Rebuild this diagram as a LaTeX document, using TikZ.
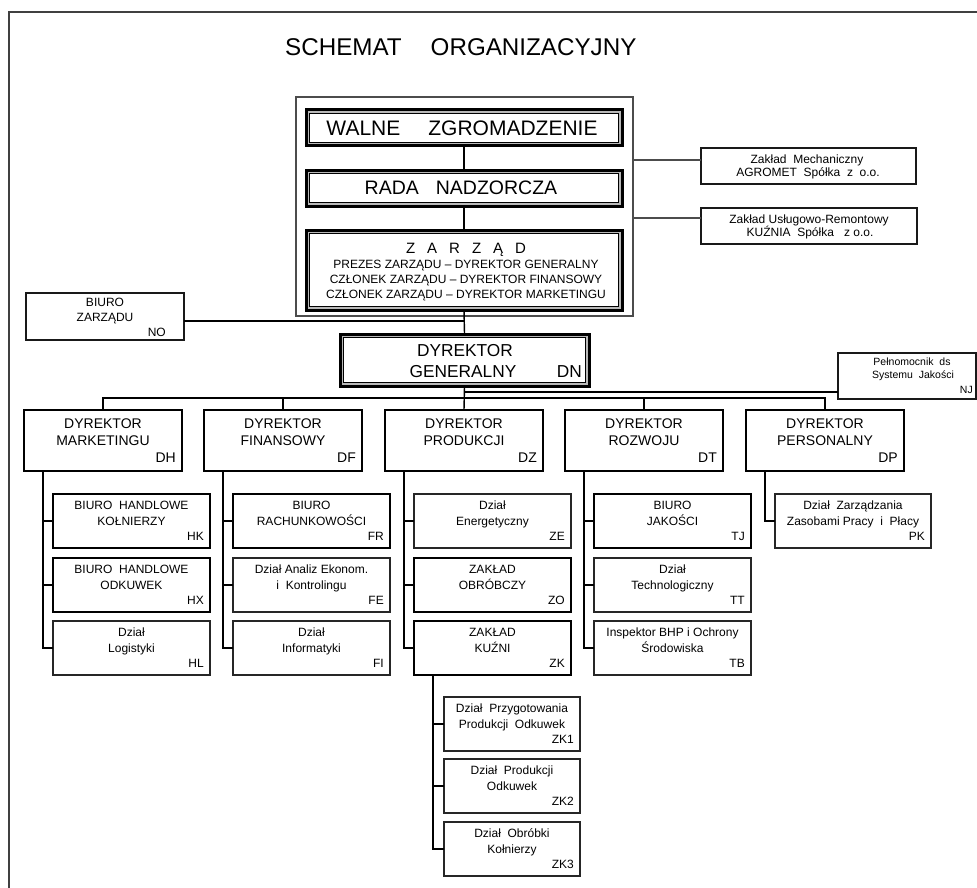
\documentclass[tikz,border=0pt]{standalone}
\usepackage{fontspec}
\setmainfont{Liberation Sans}
\tikzset{
 conn/.style={line width=1.4pt, black},
 lconn/.style={line width=1.3pt, black!70},
 frameline/.style={line width=1.6pt, black!75},
 basebox/.style={rectangle, inner sep=0pt, outer sep=0pt},
 dirbox/.style={basebox, draw=black, line width=2.6pt},
 thickbox/.style={basebox, draw=black, line width=2.3pt},
 medbox/.style={basebox, draw=black!90, line width=1.8pt},
 thinbox/.style={basebox, draw=black!85, line width=1.3pt},
 groupbox/.style={basebox, draw=black!70, line width=1.2pt},
 dblbox/.style={basebox, draw=black, line width=3pt},
}
\newcommand\tx[5]{\node[anchor=base,inner sep=0pt,font=\fontsize{#4}{#4}\selectfont] (#1) at ({#2},{#3+0.358*#4}) {#5};}
\newcommand\cd[5]{\node[anchor=base east,inner sep=0pt,font=\fontsize{#4}{#4}\selectfont] (#1) at ({#2},{#3+0.358*#4}) {#5};}
\newcommand\bx[6]{\node[#1,anchor=north west,minimum width={#5-#3},minimum height={#6-#4}] (#2) at (#3,#4) {};}
\newcommand\ch[8]{%
 \node[#1,anchor=north west,minimum width={#5},minimum height=54] (#2) at (#3,#4) {};
 \tx{#2-a}{#3+#5/2}{#4+11}{12}{#6}
 \tx{#2-b}{#3+#5/2}{#4+27}{12}{#7}
 \cd{#2-c}{#3+#5-6}{#4+42}{12}{#8}}
\newcommand\dr[5]{%
 \node[dirbox,anchor=north west,minimum width=158,minimum height=61] (#1) at ({#2+1},410) {};
 \tx{#1-a}{#2+80}{423}{14}{#3}
 \tx{#1-b}{#2+80}{440}{14}{#4}
 \cd{#1-c}{#2+153}{457}{14}{#5}}
\newcommand\dbl[5]{%
 \bx{dblbox}{#1}{#2}{#3}{#4}{#5}
 \draw[gray!55,line width=1.6pt] ([shift={(2.3pt,-2.3pt)}]#1.north west) rectangle ([shift={(-2.3pt,2.3pt)}]#1.south east);
 \draw[black,line width=0.9pt] ([shift={(3.6pt,-3.6pt)}]#1.north west) rectangle ([shift={(-3.6pt,3.6pt)}]#1.south east);}
\begin{document}
\begin{tikzpicture}[x=1pt,y=-1pt]
\fill[white] (0,0) rectangle (977,888);
\useasboundingbox (0,0) rectangle (977,888);
% frame
\draw[frameline] (9,888) -- (9,12) -- (977,12);
% title
\node[anchor=base west,inner sep=0pt,font=\fontsize{24.2}{24.2}\selectfont] (title) at (285,56) {SCHEMAT\hspace{29pt}ORGANIZACYJNY};
% top group
\bx{groupbox}{og}{296}{97}{633}{316}
\dbl{wz}{306}{110}{622}{146}
\tx{wz-t}{462}{128}{21}{WALNE\hspace{28pt}ZGROMADZENIE}
\dbl{rn}{306}{170}{622}{206}
\tx{rn-t}{461}{188}{19.5}{RADA\hspace{17pt}NADZORCZA}
\dbl{zr}{306}{230}{622}{310}
\tx{zr-t}{466}{248}{15}{Z\hspace{12pt}A\hspace{12pt}R\hspace{12pt}Z\hspace{12pt}Ą\hspace{12pt}D}
\tx{zr-a}{466}{264}{12}{PREZES ZARZĄDU – DYREKTOR GENERALNY}
\tx{zr-b}{466}{279}{12}{CZŁONEK ZARZĄDU – DYREKTOR FINANSOWY}
\tx{zr-c}{466}{294}{12}{CZŁONEK ZARZĄDU – DYREKTOR MARKETINGU}
% right companies
\bx{medbox}{mech}{701}{148}{916}{184}
\tx{mech-a}{807}{159}{12}{Zakład\ \ Mechaniczny}
\tx{mech-b}{808}{172}{12}{AGROMET\ \ Spółka\ \ z\ \ o.o.}
\bx{medbox}{kuz}{701}{208}{917}{244}
\tx{kuz-a}{809}{219}{12}{Zakład Usługowo-Remontowy}
\tx{kuz-b}{810}{232}{12}{KUŹNIA\ \ Spółka\ \ \ z o.o.}
% biuro zarzadu
\bx{medbox}{no}{26}{293}{184}{340}
\tx{no-a}{105}{302}{12}{BIURO}
\tx{no-b}{105}{317}{12}{ZARZĄDU}
\cd{no-c}{166}{332}{12}{NO}
% dyrektor generalny
\dbl{dn}{340}{334}{589}{386}
\tx{dn-a}{465}{350}{17.3}{DYREKTOR}
\tx{dn-b}{463}{371}{17.3}{GENERALNY}
\cd{dn-c}{582}{371}{17.3}{DN}
% pelnomocnik
\bx{medbox}{nj}{838}{353}{976}{399}
\tx{nj-a}{912}{362}{10.5}{Pełnomocnik\ \ ds}
\tx{nj-b}{913}{375}{10.5}{Systemu\ \ Jakości}
\cd{nj-c}{973}{390}{10.5}{NJ}
% directors
\dr{dh}{23}{DYREKTOR}{MARKETINGU}{DH}
\dr{df}{203}{DYREKTOR}{FINANSOWY}{DF}
\dr{dz}{384}{DYREKTOR}{PRODUKCJI}{DZ}
\dr{dt}{564}{DYREKTOR}{ROZWOJU}{DT}
\dr{dp}{745}{DYREKTOR}{PERSONALNY}{DP}
% children
\ch{thickbox}{hk}{53}{494}{157}{BIURO\ \ HANDLOWE}{KOŁNIERZY}{HK}
\ch{thickbox}{hx}{53}{558}{157}{BIURO\ \ HANDLOWE}{ODKUWEK}{HX}
\ch{thinbox}{hl}{53}{621}{157}{Dział}{Logistyki}{HL}
\ch{thickbox}{fr}{233}{494}{157}{BIURO}{RACHUNKOWOŚCI}{FR}
\ch{thinbox}{fe}{233}{558}{157}{Dział Analiz Ekonom.}{i\ \ Kontrolingu}{FE}
\ch{thinbox}{fi}{233}{621}{157}{Dział}{Informatyki}{FI}
\ch{thinbox}{ze}{414}{494}{157}{Dział}{Energetyczny}{ZE}
\ch{thickbox}{zo}{414}{558}{157}{ZAKŁAD}{OBRÓBCZY}{ZO}
\ch{thickbox}{zk}{414}{621}{157}{ZAKŁAD}{KUŹNI}{ZK}
\ch{thickbox}{tj}{594}{494}{157}{BIURO}{JAKOŚCI}{TJ}
\ch{thinbox}{tt}{594}{558}{157}{Dział}{Technologiczny}{TT}
\ch{thinbox}{tb}{594}{621}{157}{Inspektor BHP i Ochrony}{Środowiska}{TB}
\ch{thinbox}{pk}{775}{494}{156}{Dział\ \ Zarządzania}{Zasobami Pracy\ \ i\ \ Płacy}{PK}
\ch{thinbox}{zka}{444}{697}{136}{Dział\ \ Przygotowania}{Produkcji\ \ Odkuwek}{ZK1}
\ch{thinbox}{zkb}{444}{759}{136}{Dział\ \ Produkcji}{Odkuwek}{ZK2}
\ch{thinbox}{zkc}{444}{822}{136}{Dział\ \ Obróbki}{Kołnierzy}{ZK3}
% connectors top
\draw[conn] (wz.south) -- (rn.north);
\draw[conn] (rn.south) -- (zr.north);
\draw[conn] (zr.south) -- (dn.north);
\coordinate (noy) at (0,321);
\draw[conn] (no.east |- noy) -- (zr.south |- noy);
\coordinate (my) at (0,160);
\coordinate (ky) at (0,218);
\draw[lconn] (og.east |- my) -- (mech.west |- my);
\draw[lconn] (og.east |- ky) -- (kuz.west |- ky);
% bus
\coordinate (njy) at (0,392);
\coordinate (busy) at (0,398);
\draw[conn] (dn.south) -- (dz.north);
\draw[conn] (dn.south |- njy) -- (nj.west |- njy);
\draw[conn] (dh.north) -- (dh.north |- busy) -- (dp.north |- busy) -- (dp.north);
\draw[conn] (df.north) -- (df.north |- busy);
\draw[conn] (dt.north) -- (dt.north |- busy);
% column verticals
\coordinate (dhv) at ([xshift=19pt]dh.south west);
\coordinate (dfv) at ([xshift=19pt]df.south west);
\coordinate (dzv) at ([xshift=19pt]dz.south west);
\coordinate (dtv) at ([xshift=19pt]dt.south west);
\coordinate (dpv) at ([xshift=19pt]dp.south west);
\coordinate (zkv) at ([xshift=19pt]zk.south west);
\draw[conn] (dhv) |- (hl.west);
\draw[conn] (hk.west -| dhv) -- (hk.west);
\draw[conn] (hx.west -| dhv) -- (hx.west);
\draw[conn] (dfv) |- (fi.west);
\draw[conn] (fr.west -| dfv) -- (fr.west);
\draw[conn] (fe.west -| dfv) -- (fe.west);
\draw[conn] (dzv) |- (zk.west);
\draw[conn] (ze.west -| dzv) -- (ze.west);
\draw[conn] (zo.west -| dzv) -- (zo.west);
\draw[conn] (dtv) |- (tb.west);
\draw[conn] (tj.west -| dtv) -- (tj.west);
\draw[conn] (tt.west -| dtv) -- (tt.west);
\draw[conn] (dpv) |- (pk.west);
\draw[conn] (zkv) |- (zkc.west);
\draw[conn] (zka.west -| zkv) -- (zka.west);
\draw[conn] (zkb.west -| zkv) -- (zkb.west);
\end{tikzpicture}
\end{document}
